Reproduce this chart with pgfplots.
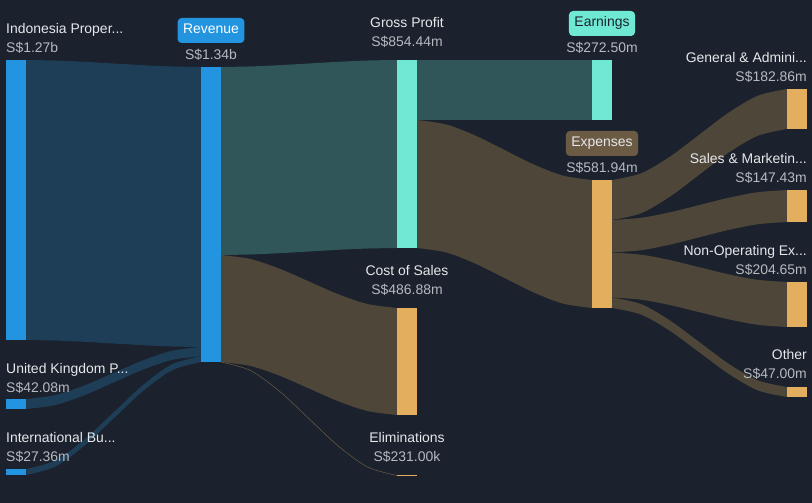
\documentclass[border=0pt]{standalone}
\usepackage{pgfplots}
\pgfplotsset{compat=1.18}
\usepgfplotslibrary{fillbetween}
\usepackage{fontspec}
\setmainfont{Liberation Sans}
\definecolor{bg}{HTML}{1B222D}
\definecolor{bluebar}{HTML}{2394DF}
\definecolor{blueband}{HTML}{1E3E57}
\definecolor{tealband}{HTML}{305659}
\definecolor{mint}{HTML}{6FE9D4}
\definecolor{brownband}{HTML}{4D4639}
\definecolor{orange}{HTML}{E4AE5F}
\definecolor{expbox}{HTML}{6C5B44}
\definecolor{labc}{HTML}{E6E8EB}
\definecolor{valc}{HTML}{B6BAC0}
\pgfplotsset{edge/.style={draw=none, smooth, forget plot}}
\tikzset{
  lab/.style={font=\fontsize{14}{16}\selectfont, text=labc, inner sep=0pt},
  val/.style={font=\fontsize{14}{16}\selectfont, text=valc, inner sep=0pt},
  box/.style={font=\fontsize{14}{16}\selectfont, rounded corners=4bp, inner xsep=5.5bp, inner ysep=0pt, minimum height=25bp, text height=10bp, text depth=3bp},
}
\begin{document}
\begin{tikzpicture}
\begin{axis}[
  scale only axis, width=812bp, height=503bp,
  xmin=0, xmax=812, ymin=0, ymax=503, y dir=reverse,
  ticks=none, axis line style={draw=none},
  axis background/.style={fill=bg},
  clip=false,
]
% ---- Indonesia -> Revenue
\addplot[edge, name path=a1] coordinates {(26,60) (55.2,60.52) (84.3,61.81) (113.5,63.5) (142.7,65.18) (171.8,66.48) (201,67)};
\addplot[edge, name path=a2] coordinates {(26,340) (55.2,340.52) (84.3,341.81) (113.5,343.5) (142.7,345.18) (171.8,346.48) (201,347)};
\addplot[fill=blueband, draw=none] fill between[of=a1 and a2];
% ---- UK -> Revenue
\addplot[edge, name path=b1] coordinates {(26,399) (55.2,395.15) (84.3,385.52) (113.5,373) (142.7,360.48) (171.8,350.85) (201,347)};
\addplot[edge, name path=b2] coordinates {(26,409) (55.2,405.07) (84.3,395.26) (113.5,382.5) (142.7,369.74) (171.8,359.93) (201,356.3)};
\addplot[fill=blueband, draw=none] fill between[of=b1 and b2];
% ---- International -> Revenue
\addplot[edge, name path=c1] coordinates {(26,469) (55.2,460.63) (84.3,439.70) (113.5,412.5) (142.7,385.30) (171.8,364.37) (201,356.3)};
\addplot[edge, name path=c2] coordinates {(26,475) (55.2,466.63) (84.3,445.70) (113.5,418.5) (142.7,391.30) (171.8,370.37) (201,362)};
\addplot[fill=blueband, draw=none] fill between[of=c1 and c2];
% ---- Revenue -> Gross Profit
\addplot[edge, name path=d1] coordinates {(221,67) (250.3,66.48) (279.7,65.18) (309,63.5) (338.3,61.81) (367.7,60.52) (397,60)};
\addplot[edge, name path=d2] coordinates {(221,255) (250.3,254.48) (279.7,253.18) (309,251.5) (338.3,249.81) (367.7,248.52) (397,248)};
\addplot[fill=tealband, draw=none] fill between[of=d1 and d2];
% ---- Revenue -> Cost of Sales
\addplot[edge, name path=e1] coordinates {(221,255) (250.3,258.93) (279.7,268.74) (309,281.5) (338.3,294.26) (367.7,304.07) (397,308)};
\addplot[edge, name path=e2] coordinates {(221,362) (250.3,365.93) (279.7,375.74) (309,388.5) (338.3,401.26) (367.7,411.07) (397,415)};
\addplot[fill=brownband, draw=none] fill between[of=e1 and e2];
% ---- Revenue -> Eliminations (tiny)
\addplot[smooth, draw=expbox, line width=0.5bp] coordinates {(221,362) (250.3,370.41) (279.7,391.43) (309,418.75) (338.3,446.07) (367.7,467.09) (397,475.5)};
% ---- Gross Profit -> Earnings
\addplot[fill=tealband, draw=none] coordinates {(417,60) (592,60) (592,120) (417,120)} -- cycle;
% ---- Gross Profit -> Expenses
\addplot[edge, name path=g1] coordinates {(417,120) (446.2,124.45) (475.3,135.56) (504.5,150) (533.7,164.44) (562.8,175.55) (592,180)};
\addplot[edge, name path=g2] coordinates {(417,248) (446.2,252.45) (475.3,263.56) (504.5,278) (533.7,292.44) (562.8,303.55) (592,308)};
\addplot[fill=brownband, draw=none] fill between[of=g1 and g2];
% ---- Expenses -> G&A
\addplot[edge, name path=h1] coordinates {(612,180) (641.2,173.26) (670.3,156.40) (699.5,134.5) (728.7,112.60) (757.8,95.74) (787,89)};
\addplot[edge, name path=h2] coordinates {(612,220) (641.2,213.26) (670.3,196.40) (699.5,174.5) (728.7,152.60) (757.8,135.74) (787,129)};
\addplot[fill=brownband, draw=none] fill between[of=h1 and h2];
% ---- Expenses -> S&M
\addplot[edge, name path=i1] coordinates {(612,220) (641.2,217.78) (670.3,212.22) (699.5,205) (728.7,197.78) (757.8,192.22) (787,190)};
\addplot[edge, name path=i2] coordinates {(612,252.5) (641.2,250.24) (670.3,244.59) (699.5,237.25) (728.7,229.91) (757.8,224.26) (787,222)};
\addplot[fill=brownband, draw=none] fill between[of=i1 and i2];
% ---- Expenses -> Non-Operating
\addplot[edge, name path=j1] coordinates {(612,252.5) (641.2,254.69) (670.3,260.15) (699.5,267.25) (728.7,274.35) (757.8,279.81) (787,282)};
\addplot[edge, name path=j2] coordinates {(612,297.5) (641.2,299.69) (670.3,305.15) (699.5,312.25) (728.7,319.35) (757.8,324.81) (787,327)};
\addplot[fill=brownband, draw=none] fill between[of=j1 and j2];
% ---- Expenses -> Other
\addplot[edge, name path=k1] coordinates {(612,297.5) (641.2,304.13) (670.3,320.71) (699.5,342.25) (728.7,363.79) (757.8,380.37) (787,387)};
\addplot[edge, name path=k2] coordinates {(612,308) (641.2,314.59) (670.3,331.08) (699.5,352.5) (728.7,373.92) (757.8,390.41) (787,397)};
\addplot[fill=brownband, draw=none] fill between[of=k1 and k2];

% ---- node bars
\addplot[fill=bluebar, draw=none] coordinates {(6,60) (26,60) (26,340) (6,340)} -- cycle;
\addplot[fill=bluebar, draw=none] coordinates {(6,399) (26,399) (26,409) (6,409)} -- cycle;
\addplot[fill=bluebar, draw=none] coordinates {(6,469) (26,469) (26,475) (6,475)} -- cycle;
\addplot[fill=bluebar, draw=none] coordinates {(201,67) (221,67) (221,362) (201,362)} -- cycle;
\addplot[fill=mint, draw=none] coordinates {(397,60) (417,60) (417,248) (397,248)} -- cycle;
\addplot[fill=orange, draw=none] coordinates {(397,308) (417,308) (417,415) (397,415)} -- cycle;
\addplot[fill=orange, draw=none] coordinates {(397,475) (417,475) (417,476) (397,476)} -- cycle;
\addplot[fill=mint, draw=none] coordinates {(592,60) (612,60) (612,120) (592,120)} -- cycle;
\addplot[fill=orange, draw=none] coordinates {(592,180) (612,180) (612,308) (592,308)} -- cycle;
\addplot[fill=orange, draw=none] coordinates {(787,89) (807,89) (807,129) (787,129)} -- cycle;
\addplot[fill=orange, draw=none] coordinates {(787,190) (807,190) (807,222) (787,222)} -- cycle;
\addplot[fill=orange, draw=none] coordinates {(787,282) (807,282) (807,327) (787,327)} -- cycle;
\addplot[fill=orange, draw=none] coordinates {(787,387) (807,387) (807,397) (787,397)} -- cycle;

% ---- labels
\node[lab, anchor=base west] at (axis cs:6,34) {Indonesia Proper...};
\node[val, anchor=base west] at (axis cs:6,53) {S\$1.27b};
\node[lab, anchor=base west] at (axis cs:6,374) {United Kingdom P...};
\node[val, anchor=base west] at (axis cs:6,393) {S\$42.08m};
\node[lab, anchor=base west] at (axis cs:6,443) {International Bu...};
\node[val, anchor=base west] at (axis cs:6,462) {S\$27.36m};

\node[box, fill=bluebar, text=white, anchor=center] at (axis cs:211,30.5) {Revenue};
\node[val, anchor=base] at (axis cs:211,60) {S\$1.34b};

\node[lab, anchor=base] at (axis cs:407,28) {Gross Profit};
\node[val, anchor=base] at (axis cs:407,47) {S\$854.44m};
\node[lab, anchor=base] at (axis cs:407,276) {Cost of Sales};
\node[val, anchor=base] at (axis cs:407,295) {S\$486.88m};
\node[lab, anchor=base] at (axis cs:407,443) {Eliminations};
\node[val, anchor=base] at (axis cs:407,462) {S\$231.00k};

\node[box, fill=mint, text=bg, anchor=center] at (axis cs:602,23.5) {Earnings};
\node[val, anchor=base] at (axis cs:602,53) {S\$272.50m};
\node[box, fill=expbox, text=labc, anchor=center] at (axis cs:602,143.5) {Expenses};
\node[val, anchor=base] at (axis cs:602,173) {S\$581.94m};

\node[lab, anchor=base east] at (axis cs:807,63) {General \& Admini...};
\node[val, anchor=base east] at (axis cs:807,82) {S\$182.86m};
\node[lab, anchor=base east] at (axis cs:807,164) {Sales \& Marketin...};
\node[val, anchor=base east] at (axis cs:807,183) {S\$147.43m};
\node[lab, anchor=base east] at (axis cs:807,256) {Non-Operating Ex...};
\node[val, anchor=base east] at (axis cs:807,275) {S\$204.65m};
\node[lab, anchor=base east] at (axis cs:807,360) {Other};
\node[val, anchor=base east] at (axis cs:807,379) {S\$47.00m};
\end{axis}
\end{tikzpicture}
\end{document}
